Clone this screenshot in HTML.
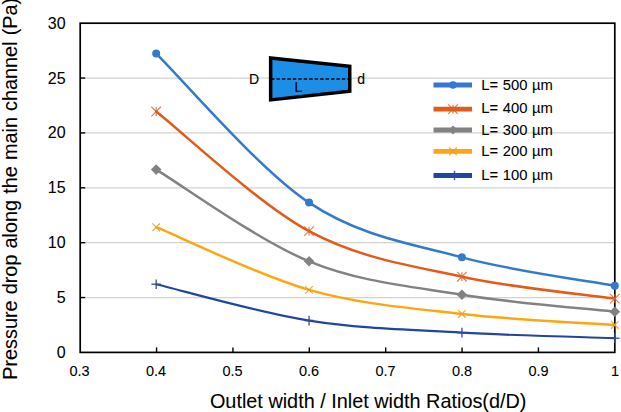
<!DOCTYPE html>
<html><head><meta charset="utf-8"><title>chart</title>
<style>
html,body{margin:0;padding:0;background:#fff;}
body{width:621px;height:412px;overflow:hidden;position:relative;font-family:"Liberation Sans",sans-serif;}
svg{position:absolute;left:0;top:0;display:block;}
text{font-family:"Liberation Sans",sans-serif;fill:#000;stroke:#000;stroke-width:0.08px;}
</style></head><body>
<svg width="621" height="412" viewBox="0 0 621 412">
<rect x="0" y="0" width="621" height="412" fill="#ffffff"/>

<line x1="80.20" y1="297.53" x2="614.80" y2="297.53" stroke="#d2d2d2" stroke-width="1.2"/>
<line x1="80.20" y1="242.67" x2="614.80" y2="242.67" stroke="#d2d2d2" stroke-width="1.2"/>
<line x1="80.20" y1="187.80" x2="614.80" y2="187.80" stroke="#d2d2d2" stroke-width="1.2"/>
<line x1="80.20" y1="132.93" x2="614.80" y2="132.93" stroke="#d2d2d2" stroke-width="1.2"/>
<line x1="80.20" y1="78.07" x2="614.80" y2="78.07" stroke="#d2d2d2" stroke-width="1.2"/>
<path d="M270.65,58 L349.75,66.3 L349.75,91.2 L270.65,99.9 Z" fill="#1c8ee6" stroke="#000" stroke-width="3.5" stroke-linejoin="miter"/>
<line x1="271" y1="79" x2="350" y2="79" stroke="#000" stroke-width="1.7" stroke-dasharray="3.5,1.95"/>
<text x="249" y="84.2" font-size="14">D</text>
<text x="357.3" y="84.2" font-size="14">d</text>
<text x="294.6" y="92.3" font-size="14">L</text>
<rect x="80.20" y="23.20" width="534.60" height="329.20" fill="none" stroke="#000" stroke-width="1.7"/>
<line x1="80.20" y1="297.53" x2="85.20" y2="297.53" stroke="#000" stroke-width="1.4"/>
<line x1="80.20" y1="242.67" x2="85.20" y2="242.67" stroke="#000" stroke-width="1.4"/>
<line x1="80.20" y1="187.80" x2="85.20" y2="187.80" stroke="#000" stroke-width="1.4"/>
<line x1="80.20" y1="132.93" x2="85.20" y2="132.93" stroke="#000" stroke-width="1.4"/>
<line x1="80.20" y1="78.07" x2="85.20" y2="78.07" stroke="#000" stroke-width="1.4"/>
<line x1="156.57" y1="352.40" x2="156.57" y2="347.40" stroke="#000" stroke-width="1.4"/>
<line x1="232.94" y1="352.40" x2="232.94" y2="347.40" stroke="#000" stroke-width="1.4"/>
<line x1="309.31" y1="352.40" x2="309.31" y2="347.40" stroke="#000" stroke-width="1.4"/>
<line x1="385.69" y1="352.40" x2="385.69" y2="347.40" stroke="#000" stroke-width="1.4"/>
<line x1="462.06" y1="352.40" x2="462.06" y2="347.40" stroke="#000" stroke-width="1.4"/>
<line x1="538.43" y1="352.40" x2="538.43" y2="347.40" stroke="#000" stroke-width="1.4"/>
<path d="M156.19,53.60 C181.66,78.43 258.10,168.65 309.06,202.61 C360.01,236.58 410.97,243.53 461.93,257.37 C512.89,271.22 589.32,280.96 614.80,285.68" fill="none" stroke="#3579cc" stroke-width="2.5" stroke-linecap="round"/>
<circle cx="156.19" cy="53.60" r="4.00" fill="#3579cc"/>
<circle cx="309.06" cy="202.61" r="4.00" fill="#3579cc"/>
<circle cx="461.93" cy="257.37" r="4.00" fill="#3579cc"/>
<circle cx="614.80" cy="285.68" r="4.00" fill="#3579cc"/>
<path d="M156.19,111.54 C181.66,131.47 258.10,203.62 309.06,231.14 C360.01,258.67 410.97,265.44 461.93,276.68 C512.89,287.93 589.32,294.97 614.80,298.63" fill="none" stroke="#e45a17" stroke-width="2.5" stroke-linecap="round"/>
<path d="M151.39,106.74 L160.99,116.34 M151.39,116.34 L160.99,106.74 M156.19,107.12 L156.19,115.95" stroke="#d4612c" stroke-width="1.2" fill="none" opacity="0.8"/>
<path d="M304.26,226.34 L313.86,235.94 M304.26,235.94 L313.86,226.34 M309.06,226.73 L309.06,235.56" stroke="#d4612c" stroke-width="1.2" fill="none" opacity="0.8"/>
<path d="M457.13,271.88 L466.73,281.48 M457.13,281.48 L466.73,271.88 M461.93,272.27 L461.93,281.10" stroke="#d4612c" stroke-width="1.2" fill="none" opacity="0.8"/>
<path d="M610.00,293.83 L619.60,303.43 M610.00,303.43 L619.60,293.83 M614.80,294.21 L614.80,303.05" stroke="#d4612c" stroke-width="1.2" fill="none" opacity="0.8"/>
<path d="M156.19,169.58 C181.66,184.87 258.10,240.47 309.06,261.32 C360.01,282.17 410.97,286.29 461.93,294.68 C512.89,303.07 589.32,308.85 614.80,311.69" fill="none" stroke="#828282" stroke-width="2.5" stroke-linecap="round"/>
<path d="M156.19,164.28 L161.49,169.58 L156.19,174.88 L150.89,169.58 Z" fill="#828282"/>
<path d="M309.06,256.02 L314.36,261.32 L309.06,266.62 L303.76,261.32 Z" fill="#828282"/>
<path d="M461.93,289.38 L467.23,294.68 L461.93,299.98 L456.63,294.68 Z" fill="#828282"/>
<path d="M614.80,306.39 L620.10,311.69 L614.80,316.99 L609.50,311.69 Z" fill="#828282"/>
<path d="M156.19,227.19 C181.66,237.64 258.10,275.39 309.06,289.85 C360.01,304.32 410.97,308.14 461.93,313.99 C512.89,319.85 589.32,323.14 614.80,324.97" fill="none" stroke="#fda611" stroke-width="2.5" stroke-linecap="round"/>
<path d="M152.39,223.39 L159.99,230.99 M152.39,230.99 L159.99,223.39" stroke="#e6a22a" stroke-width="1.2" fill="none" opacity="0.9"/>
<path d="M305.26,286.05 L312.86,293.65 M305.26,293.65 L312.86,286.05" stroke="#e6a22a" stroke-width="1.2" fill="none" opacity="0.9"/>
<path d="M458.13,310.19 L465.73,317.79 M458.13,317.79 L465.73,310.19" stroke="#e6a22a" stroke-width="1.2" fill="none" opacity="0.9"/>
<path d="M611.00,321.17 L618.60,328.77 M611.00,328.77 L618.60,321.17" stroke="#e6a22a" stroke-width="1.2" fill="none" opacity="0.9"/>
<path d="M156.19,284.26 C181.66,290.31 258.10,312.51 309.06,320.58 C360.01,328.64 410.97,329.72 461.93,332.65 C512.89,335.57 589.32,337.22 614.80,338.13" fill="none" stroke="#2246a0" stroke-width="2.2" stroke-linecap="round"/>
<path d="M151.39,284.26 L160.99,284.26 M156.19,279.46 L156.19,289.06" stroke="#34489c" stroke-width="1.5" fill="none" opacity="0.85"/>
<path d="M304.26,320.58 L313.86,320.58 M309.06,315.78 L309.06,325.38" stroke="#34489c" stroke-width="1.5" fill="none" opacity="0.85"/>
<path d="M457.13,332.65 L466.73,332.65 M461.93,327.85 L461.93,337.45" stroke="#34489c" stroke-width="1.5" fill="none" opacity="0.85"/>
<path d="M610.00,338.13 L619.60,338.13 M614.80,333.33 L614.80,342.93" stroke="#34489c" stroke-width="1.5" fill="none" opacity="0.85"/>
<text x="65.6" y="357.90" font-size="16" text-anchor="end">0</text>
<text x="65.6" y="303.03" font-size="16" text-anchor="end">5</text>
<text x="65.6" y="248.17" font-size="16" text-anchor="end">10</text>
<text x="65.6" y="193.30" font-size="16" text-anchor="end">15</text>
<text x="65.6" y="138.43" font-size="16" text-anchor="end">20</text>
<text x="65.6" y="83.57" font-size="16" text-anchor="end">25</text>
<text x="65.6" y="28.70" font-size="16" text-anchor="end">30</text>
<text x="79.50" y="375.9" font-size="14.5" text-anchor="middle">0.3</text>
<text x="156.00" y="375.9" font-size="14.5" text-anchor="middle">0.4</text>
<text x="232.50" y="375.9" font-size="14.5" text-anchor="middle">0.5</text>
<text x="309.00" y="375.9" font-size="14.5" text-anchor="middle">0.6</text>
<text x="385.50" y="375.9" font-size="14.5" text-anchor="middle">0.7</text>
<text x="462.00" y="375.9" font-size="14.5" text-anchor="middle">0.8</text>
<text x="538.50" y="375.9" font-size="14.5" text-anchor="middle">0.9</text>
<text x="615.00" y="375.9" font-size="14.5" text-anchor="middle">1</text>
<text x="368.2" y="408" font-size="19.85" text-anchor="middle">Outlet width / Inlet width Ratios(d/D)</text>
<text transform="translate(17.2,379.8) rotate(-90)" font-size="19.85" style="word-spacing:0.6px">Pressure drop along the main channel (Pa)</text>
<line x1="433.5" y1="85.00" x2="472" y2="85.00" stroke="#3579cc" stroke-width="4.8"/>
<circle cx="453.00" cy="85.00" r="3.80" fill="#3579cc"/>
<line x1="433.5" y1="109.10" x2="472" y2="109.10" stroke="#e45a17" stroke-width="4.8"/>
<path d="M448.20,104.30 L457.80,113.90 M448.20,113.90 L457.80,104.30 M453.00,104.68 L453.00,113.52" stroke="#d4612c" stroke-width="1.2" fill="none" opacity="0.8"/>
<line x1="433.5" y1="130.00" x2="472" y2="130.00" stroke="#828282" stroke-width="4.8"/>
<path d="M453.00,125.50 L457.50,130.00 L453.00,134.50 L448.50,130.00 Z" fill="#828282"/>
<line x1="433.5" y1="151.30" x2="472" y2="151.30" stroke="#fda611" stroke-width="4.8"/>
<path d="M449.20,147.50 L456.80,155.10 M449.20,155.10 L456.80,147.50" stroke="#e6a22a" stroke-width="1.2" fill="none" opacity="0.9"/>
<line x1="433.5" y1="175.50" x2="472" y2="175.50" stroke="#2246a0" stroke-width="4.8"/>
<path d="M449.70,175.50 L459.30,175.50 M454.50,170.70 L454.50,180.30" stroke="#34489c" stroke-width="1.5" fill="none" opacity="0.85"/>
<text x="481.3" y="90.00" font-size="14.8" style="word-spacing:0.4px">L= 500 µm</text>
<text x="481.3" y="113.00" font-size="14.8" style="word-spacing:0.4px">L= 400 µm</text>
<text x="481.3" y="134.50" font-size="14.8" style="word-spacing:0.4px">L= 300 µm</text>
<text x="481.3" y="156.30" font-size="14.8" style="word-spacing:0.4px">L= 200 µm</text>
<text x="481.3" y="180.30" font-size="14.8" style="word-spacing:0.4px">L= 100 µm</text>
</svg></body></html>
